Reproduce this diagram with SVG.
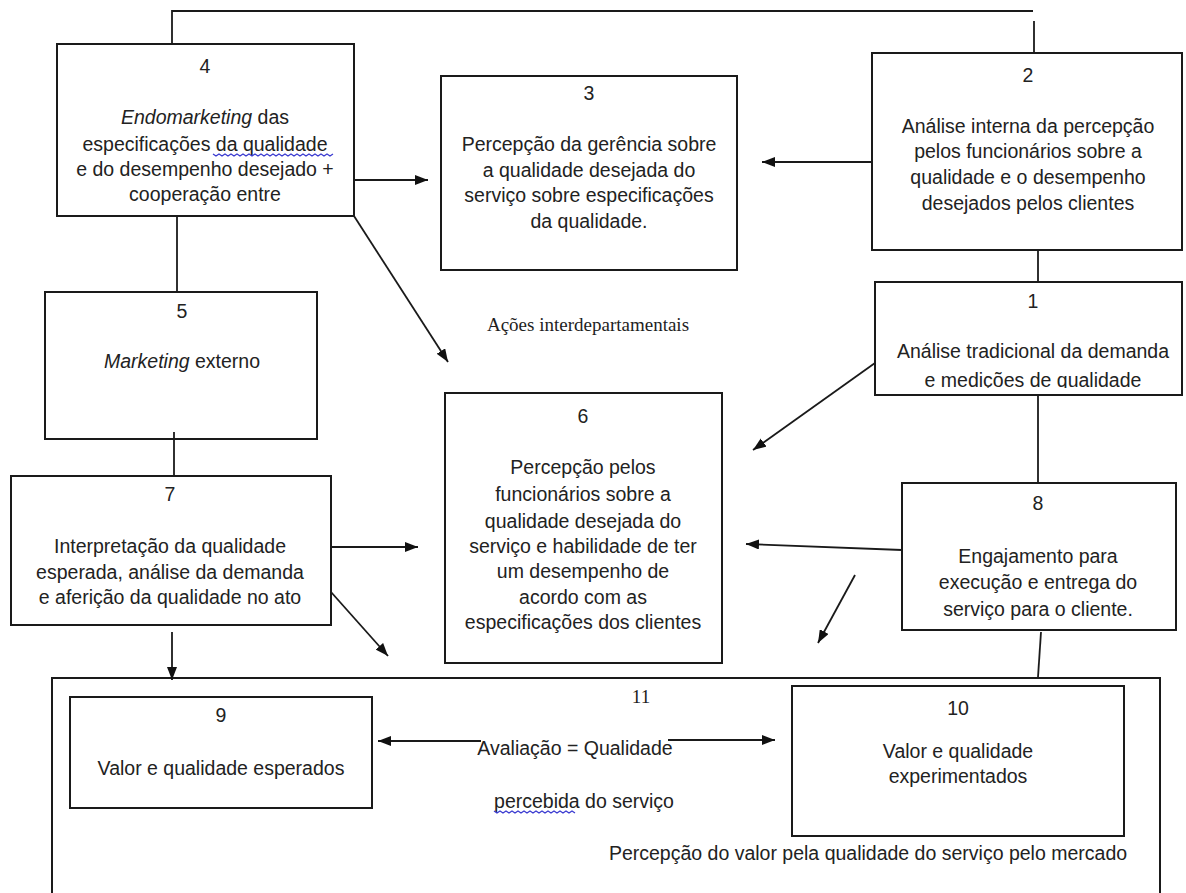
<svg xmlns="http://www.w3.org/2000/svg" width="1186" height="893" viewBox="0 0 1186 893">
<style>
.box{fill:#fff;stroke:#1a1a1a;stroke-width:2}
.t{font-family:"Liberation Sans",Arial,sans-serif;font-size:19.5px;fill:#222;text-anchor:middle}
.s{font-family:"Liberation Serif","Times New Roman",serif;font-size:19px;fill:#1e1e1e;text-anchor:middle}
.ln{fill:none;stroke:#1a1a1a;stroke-width:1.8}
.sq{fill:none;stroke:#3a3ad0;stroke-width:1.3}
</style>
<defs>
<marker id="arr" viewBox="0 0 13 10" refX="13" refY="5" markerWidth="13" markerHeight="10" markerUnits="userSpaceOnUse" orient="auto">
<path d="M0,0 L13,5 L0,10 z" fill="#111"/>
</marker>
<clipPath id="clip1"><rect x="876" y="283" width="305" height="105"/></clipPath>
</defs>
<rect width="1186" height="893" fill="#fff"/>

<g id="node-11">
<rect class="box" x="52" y="678" width="1108" height="240"/>
<text class="s" x="641" y="703">11</text>
<text class="t" x="575" y="755">Avaliação = Qualidade</text>
<text class="t" x="584" y="808">percebida do serviço</text>
<path class="sq" d="M494,811 l3,2 l3,-2 l3,2 l3,-2 l3,2 l3,-2 l3,2 l3,-2 l3,2 l3,-2 l3,2 l3,-2 l3,2 l3,-2 l3,2 l3,-2 l3,2 l3,-2 l3,2 l3,-2 l3,2 l3,-2 l3,2 l3,-2 l3,2 l3,-2 l3,2"/>
<text class="t" x="868" y="860">Percepção do valor pela qualidade do serviço pelo mercado</text>
</g>

<g id="node-4">
<rect class="box" x="57" y="44" width="297" height="172"/>
<text class="t" x="205" y="73">4</text>
<text class="t" x="205" y="124"><tspan font-style="italic">Endomarketing</tspan> das</text>
<text class="t" x="205" y="151">especificações da  qualidade</text>
<path class="sq" d="M213,154 l3,2 l3,-2 l3,2 l3,-2 l3,2 l3,-2 l3,2 l3,-2 l3,2 l3,-2 l3,2 l3,-2 l3,2 l3,-2 l3,2 l3,-2 l3,2 l3,-2 l3,2 l3,-2 l3,2 l3,-2 l3,2 l3,-2 l3,2 l3,-2 l3,2 l3,-2 l3,2 l3,-2 l3,2 l3,-2 l3,2 l3,-2 l3,2 l3,-2 l3,2 l3,-2 l3,2 l3,-2"/>
<text class="t" x="205" y="176">e do desempenho desejado +</text>
<text class="t" x="205" y="201">cooperação entre</text>
</g>

<g id="node-3">
<rect class="box" x="441" y="76" width="296" height="194"/>
<text class="t" x="589" y="100">3</text>
<text class="t" x="589" y="151">Percepção da gerência sobre</text>
<text class="t" x="589" y="177">a qualidade desejada do</text>
<text class="t" x="589" y="202">serviço sobre especificações</text>
<text class="t" x="589" y="228">da qualidade.</text>
</g>

<g id="node-2">
<rect class="box" x="872" y="53" width="310" height="197"/>
<text class="t" x="1028" y="82">2</text>
<text class="t" x="1028" y="133">Análise interna da percepção</text>
<text class="t" x="1028" y="158">pelos funcionários sobre a</text>
<text class="t" x="1028" y="184">qualidade e o desempenho</text>
<text class="t" x="1028" y="210">desejados pelos clientes</text>
</g>

<g id="node-1">
<rect class="box" x="875" y="282" width="307" height="113"/>
<text class="t" x="1033" y="308">1</text>
<text class="t" x="1033" y="358">Análise tradicional da demanda</text>
<text class="t" x="1033" y="387" clip-path="url(#clip1)">e medições de qualidade</text>
</g>

<g id="label-acoes">
<text class="s" x="588" y="331">Ações interdepartamentais</text>
</g>

<g id="node-5">
<rect class="box" x="45" y="292" width="272" height="147"/>
<text class="t" x="182" y="318">5</text>
<text class="t" x="182" y="368"><tspan font-style="italic">Marketing</tspan> externo</text>
</g>

<g id="node-6">
<rect class="box" x="445" y="393" width="277" height="270"/>
<text class="t" x="583" y="423">6</text>
<text class="t" x="583" y="474">Percepção pelos</text>
<text class="t" x="583" y="501">funcionários sobre a</text>
<text class="t" x="583" y="528">qualidade desejada do</text>
<text class="t" x="583" y="553">serviço e habilidade de ter</text>
<text class="t" x="583" y="578">um desempenho de</text>
<text class="t" x="583" y="604">acordo com as</text>
<text class="t" x="583" y="629">especificações dos clientes</text>
</g>

<g id="node-7">
<rect class="box" x="11" y="476" width="320" height="149"/>
<text class="t" x="170" y="501">7</text>
<text class="t" x="170" y="553">Interpretação da qualidade</text>
<text class="t" x="170" y="579">esperada, análise da demanda</text>
<text class="t" x="170" y="604">e aferição da qualidade no ato</text>
</g>

<g id="node-8">
<rect class="box" x="902" y="483" width="274" height="147"/>
<text class="t" x="1038" y="510">8</text>
<text class="t" x="1038" y="563">Engajamento para</text>
<text class="t" x="1038" y="589">execução e entrega do</text>
<text class="t" x="1038" y="616">serviço para o cliente.</text>
</g>

<g id="node-9">
<rect class="box" x="70" y="697" width="302" height="111"/>
<text class="t" x="221" y="722">9</text>
<text class="t" x="221" y="775">Valor e qualidade esperados</text>
</g>

<g id="node-10">
<rect class="box" x="792" y="686" width="332" height="150"/>
<text class="t" x="958" y="715">10</text>
<text class="t" x="958" y="758">Valor e qualidade</text>
<text class="t" x="958" y="783">experimentados</text>
</g>

<g id="connectors">
<path class="ln" d="M172,44 V11 H1033"/>
<path class="ln" d="M1034,21 V53"/>
<path class="ln" d="M355,180 H428" marker-end="url(#arr)"/>
<path class="ln" d="M354,216 L448,362" marker-end="url(#arr)"/>
<path class="ln" d="M872,162 H762" marker-end="url(#arr)"/>
<path class="ln" d="M1038,250 V282"/>
<path class="ln" d="M875,363 L753,450" marker-end="url(#arr)"/>
<path class="ln" d="M1038,395 V483"/>
<path class="ln" d="M177,216 V292"/>
<path class="ln" d="M174,432 V476"/>
<path class="ln" d="M330,547 H418" marker-end="url(#arr)"/>
<path class="ln" d="M331,592 L388,656" marker-end="url(#arr)"/>
<path class="ln" d="M172,632 V680" marker-end="url(#arr)"/>
<path class="ln" d="M902,550 L746,544" marker-end="url(#arr)"/>
<path class="ln" d="M855,575 L818,643" marker-end="url(#arr)"/>
<path class="ln" d="M1041,632 L1038,677"/>
<path class="ln" d="M481,741 H378" marker-end="url(#arr)"/>
<path class="ln" d="M668,740 H775" marker-end="url(#arr)"/>
</g>
</svg>
